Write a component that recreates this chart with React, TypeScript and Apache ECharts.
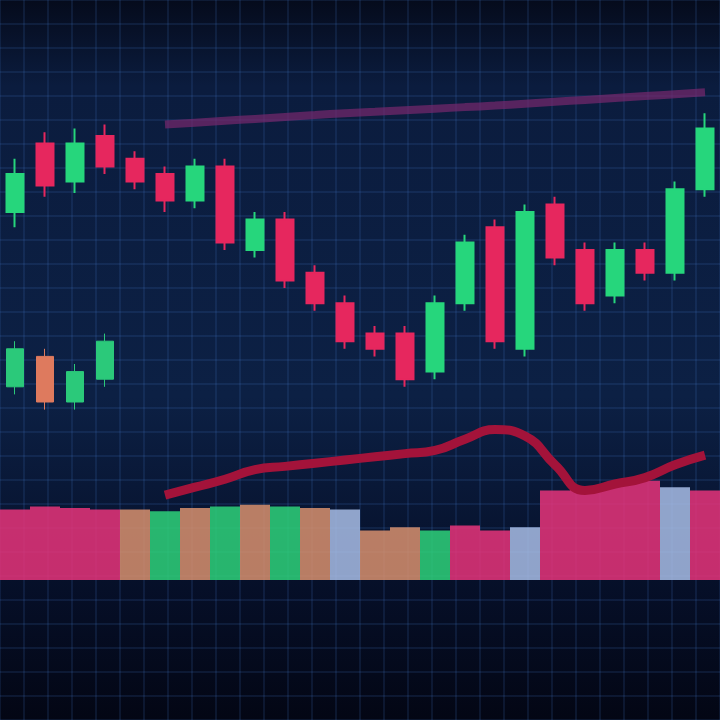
import React, { useEffect, useRef } from "react";
import * as echarts from "echarts";

const categories = [
  "D01", "D02", "D03", "D04", "D05", "D06", "D07", "D08", "D09", "D10", "D11", "D12",
  "D13", "D14", "D15", "D16", "D17", "D18", "D19", "D20", "D21", "D22", "D23", "D24",
];

// [open, close, low, high]
const candles: (number[] | string)[] = [
  [60, 70, 56, 74], [78, 67, 64, 81], [68, 78, 65, 82], [80, 72, 70, 83],
  [74, 68, 66, 76], [70, 63, 60, 72], [63, 72, 61, 74], [72, 52, 50, 74],
  [50, 58, 48, 60], [58, 42, 40, 60], [44, 36, 34, 46], [36, 26, 24, 38],
  [28, 24, 22, 30], [28, 16, 14, 30], [18, 36, 16, 38], [36, 52, 34, 54],
  [56, 26, 24, 58], [24, 60, 22, 62], [62, 48, 46, 64], [50, 36, 34, 52],
  [38, 50, 36, 52], [50, 44, 42, 52], [44, 66, 42, 68], [66, 82, 64, 86],
];

const lowerCandles: (number[] | string)[] = [
  [14, 24, 12, 26], [22, 10, 8, 24], [10, 18, 8, 20], [16, 26, 14, 28],
  "-", "-", "-", "-", "-", "-", "-", "-", "-", "-", "-", "-", "-", "-", "-", "-", "-", "-", "-", "-",
];

const bandLine: (number | string)[] = [
  "-", "-", "-", "-", "-", 83, 83.5, 84, 84.5, 85, 85.5, 86, 86.4, 86.8, 87.2, 87.6, 88, 88.5, 89, 89.5, 90, 90.5, 91, 91.5,
];

const averageLine: (number | string)[] = [
  "-", "-", "-", "-", "-", 53, 58, 63, 69, 71, 73, 75, 77, 79, 81, 88, 94, 90, 72, 56, 60, 64, 72, 78,
];

const volumes = [44, 46, 45, 44, 44, 43, 45, 46, 47, 46, 45, 44, 31, 33, 31, 34, 31, 33, 56, 58, 60, 62, 58, 56];
const volumeKinds = ["p", "p", "p", "p", "o", "g", "o", "g", "o", "g", "o", "b", "o", "o", "g", "p", "p", "b", "p", "p", "p", "p", "b", "p"];

const kindColor: Record<string, string> = {
  p: "#e8347a",
  g: "#2ed27a",
  o: "#d8906e",
  b: "#a8bde6",
};

export default function App() {
  const ref = useRef<HTMLDivElement>(null);
  useEffect(() => {
    document.body.style.margin = "0";
    const chart = echarts.init(ref.current!, null, { renderer: "svg" });
    chart.setOption({
      animation: false,
      backgroundColor: new echarts.graphic.LinearGradient(0, 0, 0, 1, [
        { offset: 0, color: "#050b1c" },
        { offset: 0.12, color: "#0b1c3e" },
        { offset: 0.55, color: "#0c2044" },
        { offset: 0.8, color: "#06102a" },
        { offset: 1, color: "#030614" },
      ]),
      grid: [
        { left: 0, right: 0, top: 60, height: 380 },
        { left: 0, right: 0, top: 420, height: 160 },
        { left: 0, right: 0, top: 0, bottom: 0 },
      ],
      xAxis: [
        { type: "category", data: categories, gridIndex: 0, show: false, boundaryGap: true },
        { type: "category", data: categories, gridIndex: 1, show: false, boundaryGap: true },
        {
          type: "value", gridIndex: 2, min: 0, max: 720, interval: 24,
          axisLine: { show: false }, axisTick: { show: false }, axisLabel: { show: false },
          splitLine: { show: true, lineStyle: { color: "rgba(70,120,200,0.2)", width: 1.5 } },
        },
      ],
      yAxis: [
        { type: "value", gridIndex: 0, min: 0, max: 100, show: false, splitLine: { show: false } },
        { type: "value", gridIndex: 1, min: 0, max: 100, show: false, splitLine: { show: false } },
        { type: "value", gridIndex: 1, min: 0, max: 100, show: false, splitLine: { show: false } },
        {
          type: "value", gridIndex: 2, min: 0, max: 720, interval: 24,
          axisLine: { show: false }, axisTick: { show: false }, axisLabel: { show: false },
          splitLine: { show: true, lineStyle: { color: "rgba(70,120,200,0.2)", width: 1.5 } },
        },
      ],
      series: [
        {
          type: "line",
          xAxisIndex: 0,
          yAxisIndex: 0,
          data: bandLine,
          symbol: "none",
          smooth: true,
          lineStyle: { color: "rgba(120,40,110,0.7)", width: 8 },
        },
        {
          type: "candlestick",
          xAxisIndex: 0,
          yAxisIndex: 0,
          data: candles,
          barWidth: 18,
          itemStyle: {
            color: "#26d67c",
            color0: "#e6275e",
            borderColor: "#26d67c",
            borderColor0: "#e6275e",
            borderWidth: 2,
          },
        },
        {
          type: "candlestick",
          xAxisIndex: 0,
          yAxisIndex: 0,
          data: lowerCandles,
          barWidth: 18,
          itemStyle: {
            color: "#2bc97a",
            color0: "#de7a5e",
            borderColor: "#2bc97a",
            borderColor0: "#de7a5e",
          },
        },
        {
          type: "bar",
          xAxisIndex: 1,
          yAxisIndex: 1,
          barCategoryGap: "0%",
          data: volumes.map((v, i) => ({
            value: v,
            itemStyle: { color: kindColor[volumeKinds[i]], opacity: 0.85 },
          })),
        },
        {
          type: "line",
          xAxisIndex: 1,
          yAxisIndex: 2,
          data: averageLine,
          symbol: "none",
          smooth: true,
          lineStyle: { color: "#a3133a", width: 9 },
        },
      ],
    });
    return () => chart.dispose();
  }, []);
  return (
    <div
      ref={ref}
      style={{ position: "fixed", left: 0, top: 0, width: 720, height: 720 }}
    />
  );
}
